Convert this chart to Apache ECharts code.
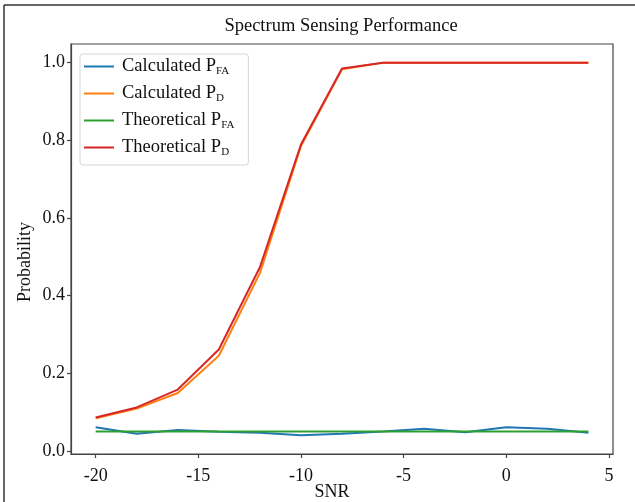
<!DOCTYPE html>
<html>
<head>
<meta charset="utf-8">
<script src="https://cdn.jsdelivr.net/npm/echarts@6/dist/echarts.min.js"></script>
<style>
  html, body { margin: 0; padding: 0; background: #fff; }
  #chart { width: 635px; height: 502px; }
</style>
</head>
<body>
<div id="chart"></div>
<script>
// SNR 横轴
var snr = [-20, -18, -16, -14, -12, -10, -8, -6, -4, -2, 0, 2, 4];
var calcPfa = [0.061, 0.044, 0.054, 0.049, 0.047, 0.040, 0.044, 0.050, 0.057, 0.048, 0.061, 0.057, 0.047];
var calcPd = [0.084, 0.109, 0.149, 0.245, 0.458, 0.785, 0.983, 1.0, 1.0, 1.0, 1.0, 1.0, 1.0];
var theoPfa = [0.05, 0.05, 0.05, 0.05, 0.05, 0.05, 0.05, 0.05, 0.05, 0.05, 0.05, 0.05, 0.05];
var theoPd = [0.086, 0.112, 0.158, 0.261, 0.473, 0.789, 0.985, 1.0, 1.0, 1.0, 1.0, 1.0, 1.0];
var xTicks = [-20, -15, -10, -5, 0, 5];
var yTicks = [0, 0.2, 0.4, 0.6, 0.8, 1.0];

function pairs(ys) {
  return snr.map(function (x, i) { return [x, ys[i]]; });
}

var font = "Liberation Serif";
var myChart = echarts.init(document.getElementById("chart"));

var axisCommon = {
  axisLine: { show: true, onZero: false, lineStyle: { color: "#444", width: 1.2 } },
  axisTick: { show: true, inside: false, length: 4, lineStyle: { color: "#444", width: 1.2 } },
  splitLine: { show: false },
};

var option = {
  animation: false,
  backgroundColor: "#fff",
  textStyle: { fontFamily: font, color: "#111" },
  title: {
    text: "Spectrum Sensing Performance",
    left: 341,
    textAlign: "center",
    top: 17,
    padding: 0,
    textStyle: { fontFamily: font, fontSize: 18.5, fontWeight: "normal", color: "#111" },
  },
  grid: {
    left: 71, right: 22, top: 44, bottom: 48,
    containLabel: false,
    outerBoundsMode: "none",
    show: true, borderColor: "#444", borderWidth: 1.2,
  },
  legend: {
    orient: "vertical",
    left: 80,
    top: 54,
    padding: [3, 14, 7, 4],
    itemGap: 7,
    itemWidth: 30,
    itemHeight: 2,
    icon: "rect",
    borderColor: "#d5d5d5",
    borderWidth: 1,
    borderRadius: 3,
    backgroundColor: "#fff",
    data: ["Calculated PFA", "Calculated PD", "Theoretical PFA", "Theoretical PD"],
    formatter: function (name) {
      var sub = name.endsWith("PFA") ? "FA" : "D";
      var main = name.slice(0, name.length - sub.length);
      return "{a|" + main + "}{s|" + sub + "}";
    },
    textStyle: {
      rich: {
        a: { fontFamily: font, fontSize: 18.5, lineHeight: 21, color: "#111", padding: [0, 0, 0, 3] },
        s: { fontFamily: font, fontSize: 11, lineHeight: 6, verticalAlign: "bottom", color: "#111" },
      },
    },
  },
  graphic: [
    { type: "line", shape: { x1: 4, y1: 5, x2: 640, y2: 5 }, style: { stroke: "#333", lineWidth: 1.5 } },
    { type: "line", shape: { x1: 4, y1: 5, x2: 4, y2: 510 }, style: { stroke: "#333", lineWidth: 1.5 } },
  ],
  xAxis: Object.assign({}, axisCommon, {
    type: "value",
    min: -21.2,
    max: 5.2,
    name: "SNR",
    nameLocation: "middle",
    nameGap: 29,
    nameMoveOverlap: false,
    nameTextStyle: { fontFamily: font, fontSize: 18, color: "#111", padding: [0, 20, 0, 0] },
    axisTick: Object.assign({}, axisCommon.axisTick, { customValues: xTicks }),
    axisLabel: {
      customValues: xTicks,
      margin: 13,
      fontFamily: font, fontSize: 18, color: "#111",
    },
  }),
  yAxis: Object.assign({}, axisCommon, {
    type: "value",
    min: -0.008,
    max: 1.048,
    name: "Probability",
    nameLocation: "middle",
    nameGap: 37,
    nameMoveOverlap: false,
    nameTextStyle: { fontFamily: font, fontSize: 18, color: "#111", padding: [0, 26, 0, 0] },
    axisTick: Object.assign({}, axisCommon.axisTick, { customValues: yTicks }),
    axisLabel: {
      customValues: yTicks,
      margin: 6,
      fontFamily: font, fontSize: 18, color: "#111",
      formatter: function (v) { return v.toFixed(1); },
    },
  }),
  series: [
    { name: "Calculated PFA", type: "line", showSymbol: false, data: pairs(calcPfa), color: "#1f77b4", lineStyle: { width: 2 } },
    { name: "Calculated PD", type: "line", showSymbol: false, data: pairs(calcPd), color: "#ff7f0e", lineStyle: { width: 2 } },
    { name: "Theoretical PFA", type: "line", showSymbol: false, data: pairs(theoPfa), color: "#2ca02c", lineStyle: { width: 2 } },
    { name: "Theoretical PD", type: "line", showSymbol: false, data: pairs(theoPd), color: "#d62728", lineStyle: { width: 2 } },
  ],
};
myChart.setOption(option);
</script>
</body>
</html>
